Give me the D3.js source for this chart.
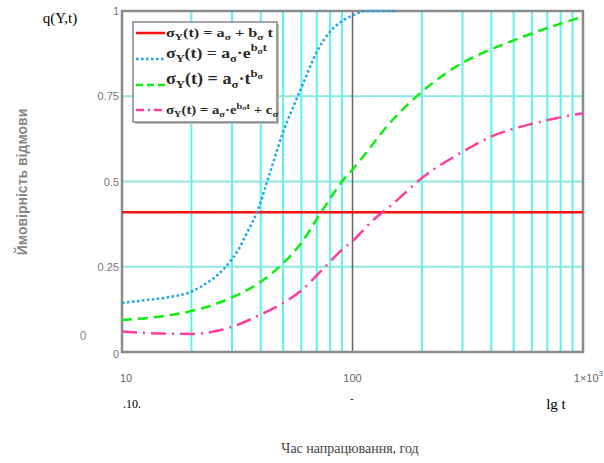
<!DOCTYPE html>
<html lang="uk">
<head>
<meta charset="UTF-8">
<title>q(Y,t)</title>
<script src="https://d3js.org/d3.v7.min.js"></script>
<style>
    body { margin: 0; background: #fff; }
    svg { display: block; }
    .serif { font-family: "Liberation Serif", "DejaVu Serif", serif; }
    .tick-lbl { font-family: "Liberation Sans", Arial, sans-serif; font-size: 11px; fill: #777; }
</style>
</head>
<body>
<div id="chart"></div>
<script>
    // values
    const xTicks = [10, 100, 1000];
    const xTickLabels = ["10", "100", "1×10"];
    const yTicks = [1, 0.75, 0.5, 0.25];
    const yTickLabels = ["1", "0.75", "0.5", "0.25"];
    const gridT = [20, 30, 40, 50, 60, 70, 80, 90, 200, 300, 400, 500, 600, 700, 800, 900];
    const gridQ = [0.25, 0.5, 0.75];

    const tRed = [10, 1000];
    const qRed = [0.41, 0.41];

    const tBlue = [10, 13, 16, 20, 23, 26, 29, 32, 35, 38.5, 42.5, 45, 50, 55, 60, 70, 80, 90, 100, 115, 130, 156];
    const qBlue = [0.144, 0.153, 0.161, 0.177, 0.2, 0.226, 0.26, 0.3, 0.352, 0.41, 0.497, 0.55, 0.645, 0.715, 0.775, 0.88, 0.94, 0.97, 0.987, 1.0, 1.0, 1.0];

    const tGreen = [10, 15, 20, 30, 40, 50, 60, 70, 80, 90, 100, 150, 200, 300, 400, 500, 600, 700, 800, 900, 1000];
    const qGreen = [0.094, 0.105, 0.12, 0.16, 0.206, 0.26, 0.32, 0.39, 0.45, 0.50, 0.535, 0.682, 0.763, 0.848, 0.888, 0.914, 0.934, 0.95, 0.963, 0.974, 0.983];

    const tPink = [10, 15, 20, 25, 30, 40, 50, 60, 70, 80, 90, 100, 120, 150, 200, 300, 400, 500, 600, 700, 800, 900, 1000];
    const qPink = [0.06, 0.054, 0.053, 0.06, 0.074, 0.11, 0.144, 0.18, 0.225, 0.265, 0.30, 0.325, 0.38, 0.435, 0.51, 0.587, 0.632, 0.655, 0.669, 0.68, 0.688, 0.695, 0.70];

    const W = 604, H = 463;
    const plotL = 122, plotR = 583, plotT = 11, plotB = 352;

    const svg = d3.select("#chart").append("svg")
        .attr("width", W)
        .attr("height", H);

    const x = d3.scaleLog().domain([10, 1000]).range([plotL, plotR]);
    const y = d3.scaleLinear().domain([0, 1]).range([plotB, plotT]);

    // grid
    svg.append("g").selectAll("line")
        .data(gridT)
        .enter().append("line")
        .attr("x1", d => x(d)).attr("x2", d => x(d))
        .attr("y1", plotT).attr("y2", plotB)
        .style("stroke", "#5ff0f0")
        .style("stroke-width", 2);

    svg.append("g").selectAll("line")
        .data(gridQ)
        .enter().append("line")
        .attr("x1", plotL).attr("x2", plotR)
        .attr("y1", d => y(d)).attr("y2", d => y(d))
        .style("stroke", "#8de6e2")
        .style("stroke-width", 2);

    // the 100 h line is darker
    svg.append("line")
        .attr("x1", x(100)).attr("x2", x(100))
        .attr("y1", plotT).attr("y2", plotB)
        .style("stroke", "#666")
        .style("stroke-width", 1.5);

    // frame
    svg.append("rect")
        .attr("x", plotL).attr("y", plotT)
        .attr("width", plotR - plotL).attr("height", plotB - plotT)
        .style("fill", "none")
        .style("stroke", "#8a8a8a")
        .style("stroke-width", 2.5);

    // curves
    function addCurve(ts, qs, color, dash) {
        const pts = ts.map((t, i) => ({ t: t, q: qs[i] }));
        const line = d3.line()
            .x(d => x(d.t))
            .y(d => y(d.q))
            .curve(d3.curveMonotoneX);
        svg.append("path")
            .datum(pts)
            .attr("d", line)
            .style("fill", "none")
            .style("stroke", color)
            .style("stroke-width", 2.5)
            .style("stroke-dasharray", dash);
    }

    addCurve(tRed, qRed, "#ff1010", null);
    addCurve(tBlue, qBlue, "#1ba6ea", "2.5,2.5");
    addCurve(tGreen, qGreen, "#10ee10", "10,6");
    addCurve(tPink, qPink, "#ff3d9a", "15,6,2,6");

    // tick labels
    svg.append("g").selectAll("text")
        .data(yTicks)
        .enter().append("text")
        .attr("class", "tick-lbl")
        .attr("x", plotL - 3)
        .attr("y", d => y(d) + 4)
        .attr("text-anchor", "end")
        .text((d, i) => yTickLabels[i]);

    svg.append("text").attr("class", "tick-lbl")
        .attr("x", plotL - 3).attr("y", plotB + 6)
        .attr("text-anchor", "end").text("0");
    svg.append("text").attr("class", "tick-lbl")
        .attr("x", 83).attr("y", 340)
        .attr("text-anchor", "middle")
        .style("font-size", "12px")
        .style("fill", "#888")
        .text("0");

    const xl = svg.append("g").selectAll("text")
        .data(xTicks)
        .enter().append("text")
        .attr("class", "tick-lbl")
        .attr("x", (d, i) => i === 2 ? W - 1 : x(d) + (i === 0 ? 4 : 0))
        .attr("y", 382)
        .attr("text-anchor", (d, i) => i === 2 ? "end" : "middle")
        .style("fill", "#666")
        .text((d, i) => xTickLabels[i]);
    xl.filter((d, i) => i === 2).append("tspan")
        .attr("dy", -6).style("font-size", "8px").text("3");

    // axis texts
    svg.append("text").attr("class", "serif")
        .attr("x", 60).attr("y", 23)
        .attr("text-anchor", "middle")
        .style("font-size", "15px")
        .text("q(Y,t)");

    svg.append("text").attr("class", "serif")
        .attr("x", 132).attr("y", 408)
        .attr("text-anchor", "middle")
        .style("font-size", "12px")
        .text(".10.");
    svg.append("text").attr("class", "serif")
        .attr("x", 352).attr("y", 402)
        .attr("text-anchor", "middle")
        .style("font-size", "10px")
        .text("-");

    svg.append("text").attr("class", "serif")
        .attr("x", 556).attr("y", 409)
        .attr("text-anchor", "middle")
        .style("font-size", "15px")
        .text("lg t");

    svg.append("text").attr("class", "serif")
        .attr("x", 350).attr("y", 453)
        .attr("text-anchor", "middle")
        .style("font-size", "14px")
        .style("fill", "#444")
        .text("Час напрацювання, год");

    svg.append("text")
        .attr("transform", "translate(27,182) rotate(-90)")
        .attr("text-anchor", "middle")
        .style("font-family", "'Liberation Sans', Arial, sans-serif")
        .style("font-size", "14px")
        .style("font-weight", "bold")
        .style("fill", "#888")
        .text("Ймовірність відмови");

    // legend
    const lg = svg.append("g");
    lg.append("rect")
        .attr("x", 135).attr("y", 24).attr("width", 144).attr("height", 100)
        .style("fill", "#bbb");
    lg.append("rect")
        .attr("x", 133).attr("y", 22).attr("width", 144).attr("height", 100)
        .style("fill", "#fff")
        .style("stroke", "#888")
        .style("stroke-width", 1.5);

    const legendRows = [
        { ly: 33, ty: 37, size: 13, len: 107, color: "#ff1010", dash: null, parts: [["σ"], ["Y", "sub"], ["(t) = a"], ["σ", "sub"], [" + b"], ["σ", "sub"], [" t"]] },
        { ly: 59, ty: 58, size: 15, len: 101, color: "#1ba6ea", dash: "2.5,2.5", parts: [["σ"], ["Y", "sub"], ["(t) = a"], ["σ", "sub"], ["·e"], ["b", "sup"], ["σ", "supsub"], ["t", "sup2"]] },
        { ly: 85, ty: 84, size: 16, len: 97, color: "#10ee10", dash: "7,4", parts: [["σ"], ["Y", "sub"], ["(t) = a"], ["σ", "sub"], ["·t"], ["b", "sup"], ["σ", "supsub"]] },
        { ly: 110, ty: 114, size: 12, len: 112, color: "#ff3d9a", dash: "8,4,2,4", parts: [["σ"], ["Y", "sub"], ["(t) = a"], ["σ", "sub"], ["·e"], ["b", "sup"], ["σ", "supsub"], ["t", "sup2"], [" + c"], ["σ", "sub"]] }
    ];

    legendRows.forEach(r => {
        lg.append("line")
            .attr("x1", 136).attr("x2", 165)
            .attr("y1", r.ly).attr("y2", r.ly)
            .style("stroke", r.color)
            .style("stroke-width", 2.5)
            .style("stroke-dasharray", r.dash);
        const base = r.size;
        const t = lg.append("text").attr("class", "serif")
            .attr("x", 166).attr("y", r.ty)
            .attr("textLength", r.len)
            .attr("lengthAdjust", "spacingAndGlyphs")
            .style("font-size", base + "px")
            .style("font-weight", "bold")
            .style("fill", "#2a2a2a");
        let level = 0;
        r.parts.forEach(p => {
            const kind = p[1];
            let target = 0, size = base;
            if (kind === "sub") { target = base * 0.25; size = base * 0.7; }
            else if (kind === "sup") { target = -base * 0.45; size = base * 0.7; }
            else if (kind === "supsub") { target = -base * 0.3; size = base * 0.55; }
            else if (kind === "sup2") { target = -base * 0.45; size = base * 0.7; }
            t.append("tspan")
                .attr("dy", target - level)
                .style("font-size", size + "px")
                .text(p[0]);
            level = target;
        });
    });
</script>
</body>
</html>
